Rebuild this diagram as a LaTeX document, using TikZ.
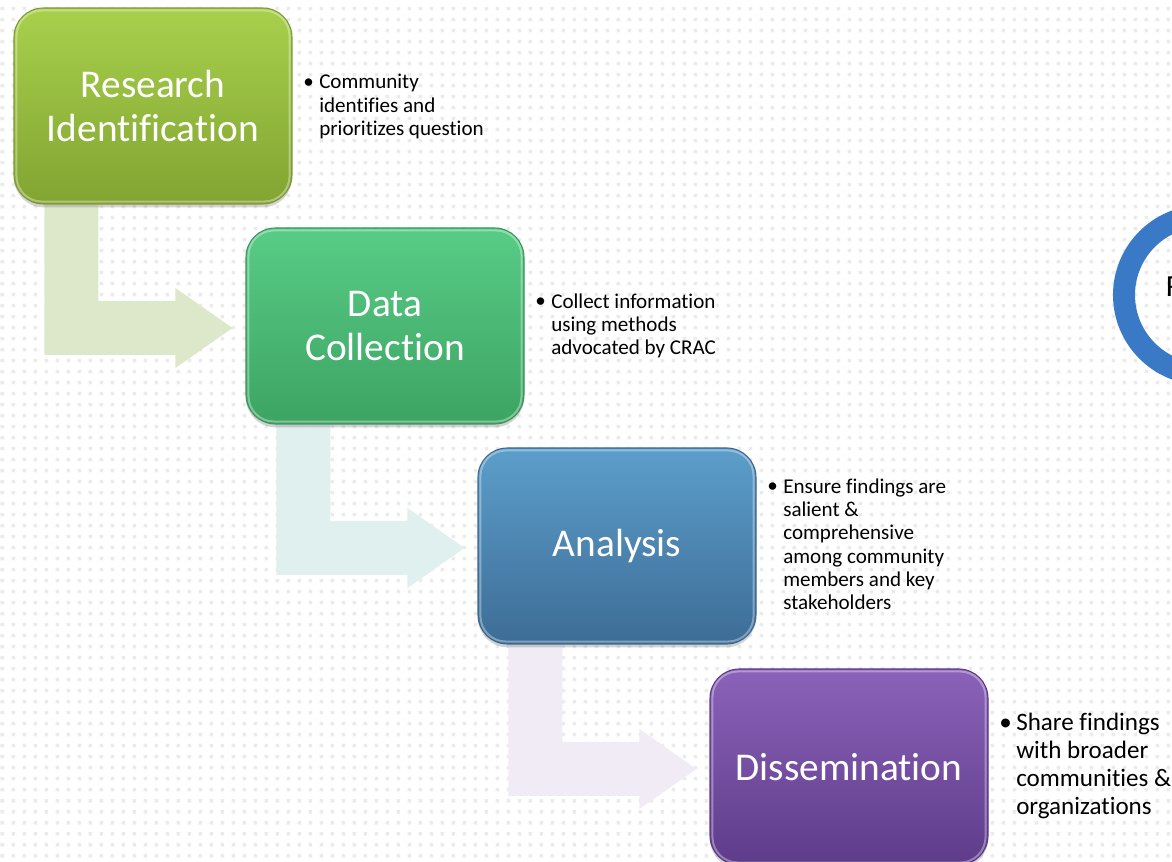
\documentclass[tikz,border=0pt]{standalone}
\usepackage{fontspec}
\setmainfont{Carlito}[Ligatures=NoCommon]
\usetikzlibrary{calc,shadows,backgrounds}
\definecolor{dotc}{HTML}{EBEBEB}
\definecolor{gTop}{HTML}{A8D04C}
\definecolor{gBot}{HTML}{82A432}
\definecolor{gLine}{HTML}{7C9A34}
\definecolor{eTop}{HTML}{58CC86}
\definecolor{eBot}{HTML}{3DA463}
\definecolor{eLine}{HTML}{3A955C}
\definecolor{bTop}{HTML}{5C9ECB}
\definecolor{bBot}{HTML}{3D6D96}
\definecolor{bLine}{HTML}{3A6890}
\definecolor{pTop}{HTML}{8B62B9}
\definecolor{pBot}{HTML}{5E3C8A}
\definecolor{pLine}{HTML}{5A3A86}
\definecolor{aGreen}{HTML}{DDE8CA}
\definecolor{aTeal}{HTML}{DFF0EE}
\definecolor{aLav}{HTML}{F1EBF5}
\definecolor{ringblue}{HTML}{3A79C6}
\tikzset{
  box/.style={rectangle, rounded corners=22pt, minimum width=208.5pt,
    minimum height=147pt, inner sep=0pt, text=white, align=center,
    line width=0.8pt,
    font=\fontsize{29.5}{33}\selectfont,
    drop shadow={opacity=0.35, shadow xshift=0pt, shadow yshift=-2.5pt}},
  bullettext/.style={anchor=base west, inner sep=0pt, align=left, text=black,
    font=\fontsize{15.8}{17.5}\selectfont},
  bigbullettext/.style={anchor=base west, inner sep=0pt, align=left, text=black,
    font=\fontsize{18.8}{20.8}\selectfont},
  hilite/.style={white, opacity=0.35, line width=1.5pt, rounded corners=19pt},
}
\newcommand\bentarrow[3]{%
  \coordinate (A) at ($(#1.south west)+(31,0)$);
  \coordinate (B) at ($(#1.south west)+(85,0)$);
  \coordinate (T) at ($(#2.west)+(-13,2)$);
  \coordinate (Tu) at ($(T)+(-57,-27)$);
  \coordinate (Td) at ($(T)+(-57,27)$);
  \fill[#3] (A) -- (B) -- (B |- Tu) -- (Tu) -- ++(0,-13) -- (T)
     -- ($(Td)+(0,13)$) -- (Td) -- (A |- Td) -- cycle;
}
\begin{document}
\begin{tikzpicture}[x=0.75pt,y=-0.75pt]
\useasboundingbox (0,0) rectangle (1172,862);

% boxes
\node[box, top color=gTop, bottom color=gBot, draw=gLine] (b1) at (153,106) {Research\\Identification};
\node[box, top color=eTop, bottom color=eBot, draw=eLine] (b2) at (385,326) {Data\\Collection};
\node[box, top color=bTop, bottom color=bBot, draw=bLine] (b3) at (617,546) {Analysis};
\node[box, top color=pTop, bottom color=pBot, draw=pLine] (b4) at (849,767) {Dissemination};
\foreach \b in {b1,b2,b3,b4}{
  \draw[hilite] ($(\b.north west)+(3,3)$) rectangle ($(\b.south east)+(-3,-3)$);
}

% bullet texts (base anchor = baseline of last line)
\node[bullettext] (u1) at (303,89) {•};
\node[bullettext] (t1) at (319,135.6) {Community\\identifies and\\prioritizes question};
\node[bullettext] (u2) at (535,308) {•};
\node[bullettext] (t2) at (551,354.7) {Collect information\\using methods\\advocated by CRAC};
\node[bullettext] (u3) at (767,493) {•};
\node[bullettext] (t3) at (783,609.7) {Ensure findings are\\salient \&\\comprehensive\\among community\\members and key\\stakeholders};
\node[bigbullettext] (u4) at (999,731) {•};
\node[bigbullettext] (t4) at (1016,814) {Share findings\\with broader\\communities \&\\organizations};

% partial ring on the right
\node[circle, draw=ringblue, line width=16.5pt, minimum size=118.5pt, inner sep=0pt] (ring) at (1203,295) {};
\begin{scope}
  \clip (1140,250) rectangle (1172,320);
  \node[anchor=base west, inner sep=0pt, font=\fontsize{23}{26}\selectfont] (rl) at (1165.5,297) {R};
\end{scope}

\begin{scope}[on background layer]
  \foreach \j in {0,...,78}{
    \fill[dotc] \foreach \i in {0,...,106}{ (0.5+11*\i, 7+11*\j) rectangle ++(3.5,3.5) };
  }
  \bentarrow{b1}{b2}{aGreen}
  \bentarrow{b2}{b3}{aTeal}
  \bentarrow{b3}{b4}{aLav}
\end{scope}
\end{tikzpicture}
\end{document}
